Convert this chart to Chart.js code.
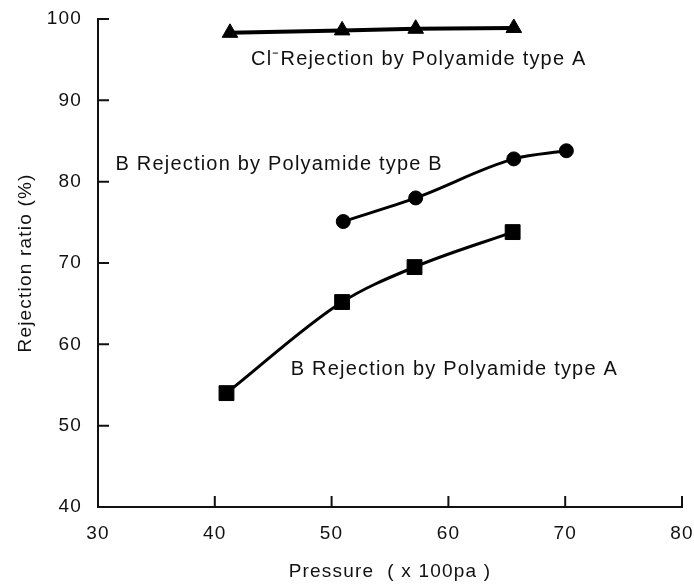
<!DOCTYPE html>
<html>
<head>
<meta charset="utf-8">
<title>Rejection ratio vs pressure</title>
<script src="https://cdn.jsdelivr.net/npm/chart.js@4/dist/chart.umd.min.js"></script>
<style>
  html, body { margin: 0; padding: 0; background: #fff; }
  canvas { display: block; }
</style>
</head>
<body>
<canvas id="chart" width="694" height="585"></canvas>
<script>
// values: pressure (x100 Pa) and rejection (%)
const clA_x = [41.3, 50.9, 57.2, 65.6];
const clA_y = [98.3, 98.6, 98.8, 98.9];
const bB_x  = [51.0, 57.2, 65.6, 70.1];
const bB_y  = [75.1, 78.0, 82.8, 83.8];
const bA_x  = [41.0, 50.9, 57.1, 65.5];
const bA_y  = [54.0, 65.2, 69.5, 73.8];

const xTicks = [30, 40, 50, 60, 70, 80];
const yTicks = [40, 50, 60, 70, 80, 90, 100];

const seriesLabels = [
  'Cl⁻Rejection by Polyamide type A',
  'B Rejection by Polyamide type B',
  'B Rejection by Polyamide type A'
];
// label anchors in axis units (left edge, baseline)
const labelAt = [[43.1, 94.3], [31.5, 81.4], [46.5, 56.2]];

const FONT = '"Liberation Sans", Arial, sans-serif';
const INK = '#111';

const pts = (xs, ys) => xs.map((v, i) => ({ x: v, y: ys[i] }));

// the original has slightly spaced-out lettering
const spacing = {
  id: 'spacing',
  beforeLayout(chart) { chart.ctx.letterSpacing = '1.2px'; },
  beforeDraw(chart) { chart.ctx.letterSpacing = '1.2px'; }
};

// tick marks pointing into the plot
const innerTicks = {
  id: 'innerTicks',
  beforeDatasetsDraw(chart) {
    const { ctx, chartArea: a, scales: { x, y } } = chart;
    ctx.save();
    ctx.strokeStyle = INK;
    ctx.lineWidth = 2;
    ctx.beginPath();
    x.ticks.forEach(t => {
      const px = x.getPixelForValue(t.value);
      ctx.moveTo(px, a.bottom); ctx.lineTo(px, a.bottom - 11);
    });
    y.ticks.forEach(t => {
      const py = y.getPixelForValue(t.value);
      ctx.moveTo(a.left, py); ctx.lineTo(a.left + 11, py);
    });
    ctx.stroke();
    ctx.restore();
  }
};

// series names written next to the curves
const seriesText = {
  id: 'seriesText',
  afterDatasetsDraw(chart) {
    const { ctx, scales: { x, y } } = chart;
    ctx.save();
    ctx.font = '20px ' + FONT;
    ctx.fillStyle = INK;
    ctx.textAlign = 'left';
    ctx.textBaseline = 'alphabetic';
    ctx.letterSpacing = '1.2px';
    seriesLabels.forEach((s, i) => {
      ctx.fillText(s, x.getPixelForValue(labelAt[i][0]), y.getPixelForValue(labelAt[i][1]));
    });
    ctx.restore();
  }
};

const line = (i, xs, ys, style, r, w, smooth) => ({
  label: seriesLabels[i],
  data: pts(xs, ys),
  borderColor: '#000',
  backgroundColor: '#000',
  borderWidth: w,
  pointStyle: style,
  pointRadius: r,
  pointBorderWidth: 1,
  pointBackgroundColor: '#000',
  pointBorderColor: '#000',
  tension: smooth ? 0.4 : 0,
  cubicInterpolationMode: smooth ? 'monotone' : 'default',
  clip: false
});

new Chart(document.getElementById('chart'), {
  type: 'line',
  data: {
    datasets: [
      line(0, clA_x, clA_y, 'triangle', 9, 4, false),
      line(1, bB_x, bB_y, 'circle', 7, 3, true),
      line(2, bA_x, bA_y, 'rect', 10.5, 3, true)
    ]
  },
  options: {
    responsive: false,
    animation: false,
    layout: { autoPadding: false, padding: { top: 19, right: 12, bottom: 0, left: 0 } },
    plugins: { legend: { display: false }, tooltip: { enabled: false } },
    scales: {
      x: {
        type: 'linear', min: 30, max: 80,
        afterBuildTicks: s => { s.ticks = xTicks.map(v => ({ value: v })); },
        afterFit: s => { s.height = 78; s.paddingLeft = 0; s.paddingRight = 0; },
        grid: { drawOnChartArea: false, drawTicks: false },
        border: { color: INK, width: 2 },
        ticks: { color: INK, font: { family: FONT, size: 19 }, padding: 15, maxRotation: 0, autoSkip: false },
        title: { display: true, text: 'Pressure  ( x 100pa )', color: INK,
                 font: { family: FONT, size: 19 }, padding: { top: 0, bottom: 2 } }
      },
      y: {
        min: 40, max: 100,
        afterBuildTicks: s => { s.ticks = yTicks.map(v => ({ value: v })); },
        afterFit: s => { s.width = 98; s.paddingTop = 0; s.paddingBottom = 0; },
        grid: { drawOnChartArea: false, drawTicks: false },
        border: { color: INK, width: 2 },
        ticks: { color: INK, font: { family: FONT, size: 19 }, padding: 16, autoSkip: false },
        title: { display: true, text: 'Rejection ratio (%)', color: INK,
                 font: { family: FONT, size: 19 }, padding: { top: 14, bottom: 0 } }
      }
    }
  },
  plugins: [spacing, innerTicks, seriesText]
});
</script>
</body>
</html>
